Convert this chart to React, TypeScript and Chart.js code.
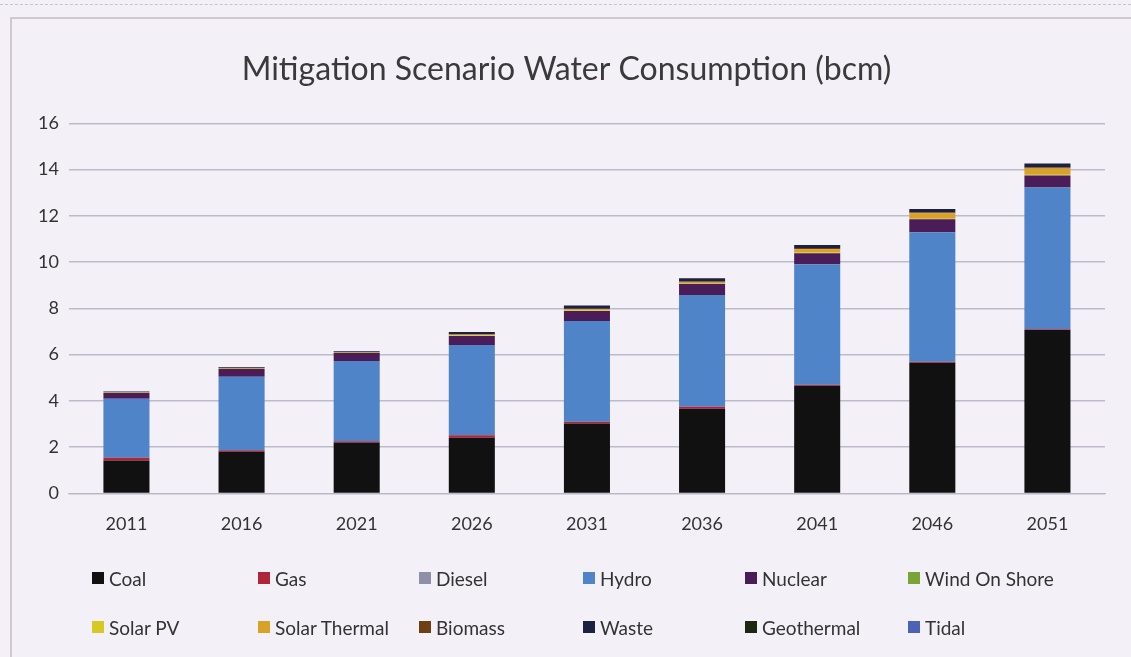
import React, { useEffect, useRef } from "react";
import { Chart, registerables } from "chart.js";

Chart.register(...registerables);

const years = ["2011", "2016", "2021", "2026", "2031", "2036", "2041", "2046", "2051"];
const coal = [1.42, 1.81, 2.2, 2.41, 3.02, 3.66, 4.66, 5.65, 7.07];
const gas = [0.12, 0.06, 0.05, 0.1, 0.08, 0.09, 0.04, 0.04, 0.03];
const diesel = [0, 0, 0, 0, 0, 0, 0, 0, 0];
const hydro = [2.55, 3.17, 3.48, 3.91, 4.36, 4.83, 5.21, 5.6, 6.13];
const nuclear = [0.26, 0.35, 0.35, 0.39, 0.43, 0.47, 0.48, 0.56, 0.52];
const windOnShore = [0, 0, 0, 0, 0, 0, 0, 0, 0];
const solarPV = [0.04, 0.03, 0.03, 0.02, 0.02, 0.02, 0.03, 0.03, 0.03];
const solarThermal = [0, 0, 0, 0.03, 0.05, 0.05, 0.14, 0.23, 0.27];
const biomass = [0, 0.01, 0.01, 0.02, 0.03, 0.04, 0.05, 0.05, 0.05];
const waste = [0.02, 0.04, 0.03, 0.1, 0.14, 0.14, 0.13, 0.14, 0.17];
const geothermal = [0, 0, 0, 0, 0, 0, 0, 0, 0];
const tidal = [0, 0, 0, 0, 0, 0, 0, 0, 0];
const yTicks = [0, 2, 4, 6, 8, 10, 12, 14, 16];

const seriesNames = [
  "Coal", "Gas", "Diesel", "Hydro", "Nuclear", "Wind On Shore",
  "Solar PV", "Solar Thermal", "Biomass", "Waste", "Geothermal", "Tidal",
];
const seriesData = [coal, gas, diesel, hydro, nuclear, windOnShore, solarPV, solarThermal, biomass, waste, geothermal, tidal];
const seriesColors = [
  "#111111", "#b0243a", "#8e90a8", "#4f84c8", "#4b1d58", "#7aa534",
  "#d6c922", "#d9a126", "#6e3f14", "#1c2142", "#1c2612", "#4b62b6",
];

const FONT = "Lato, 'Open Sans', sans-serif";

export default function App() {
  const ref = useRef<HTMLCanvasElement | null>(null);

  useEffect(() => {
    document.body.style.margin = "0";
    const ctx = ref.current!;
    const chart = new Chart(ctx, {
      type: "bar",
      data: {
        labels: years,
        datasets: seriesNames.map((n, i) => ({
          label: n,
          data: seriesData[i],
          backgroundColor: seriesColors[i],
          borderWidth: 0,
          categoryPercentage: 1,
          barPercentage: 0.4,
        })),
      },
      options: {
        animation: false,
        responsive: false,
        maintainAspectRatio: false,
        layout: { padding: { left: 28, right: 26, top: 0, bottom: 0 } },
        plugins: {
          legend: { display: false },
          tooltip: { enabled: false },
          title: {
            display: true,
            text: "Mitigation Scenario Water Consumption (bcm)",
            color: "#3a3a3a",
            font: { family: FONT, size: 32, weight: "normal" },
            padding: { top: 50, bottom: 35 },
          },
        },
        scales: {
          x: {
            stacked: true,
            grid: { display: false },
            border: { color: "#b9b9c6" },
            ticks: { color: "#333", font: { family: FONT, size: 18 }, padding: 12 },
          },
          y: {
            stacked: true,
            min: 0,
            max: 16,
            afterBuildTicks: (axis: any) => {
              axis.ticks = yTicks.map((v) => ({ value: v }));
            },
            grid: { color: "#b9bccb", lineWidth: 1.5, drawTicks: false },
            border: { display: false },
            ticks: { color: "#333", font: { family: FONT, size: 18 }, padding: 10 },
          },
        },
      },
    });
    return () => chart.destroy();
  }, []);

  return (
    <div style={{ position: "absolute", left: 0, top: 0, width: 1131, height: 657, background: "#f4f0f7", overflow: "hidden" }}>
      <div style={{ position: "absolute", left: 0, top: 4, width: 1131, borderTop: "1px dashed #c9c3cc" }} />
      <div style={{ position: "absolute", left: 10, top: 17, width: 1125, height: 650, border: "2px solid #cfc8d2", borderRight: "none", borderBottom: "none" }} />
      <canvas ref={ref} width={1131} height={547} style={{ position: "absolute", left: 0, top: 0 }} />
      <div style={{ position: "absolute", left: 0, top: 0, width: 1131, height: 657, fontFamily: FONT, fontSize: 19, color: "#333" }}>
        {seriesNames.map((n, i) => {
          const col = i % 6;
          const row = Math.floor(i / 6);
          const left = [92, 258, 419, 583, 745, 908][col];
          const top = row === 0 ? 566 : 615;
          return (
            <div key={n} style={{ position: "absolute", left, top, display: "flex", alignItems: "center", whiteSpace: "nowrap", height: 24 }}>
              <span style={{ display: "inline-block", width: 12, height: 12, background: seriesColors[i], marginRight: 5 }} />
              <span>{n}</span>
            </div>
          );
        })}
      </div>
    </div>
  );
}
